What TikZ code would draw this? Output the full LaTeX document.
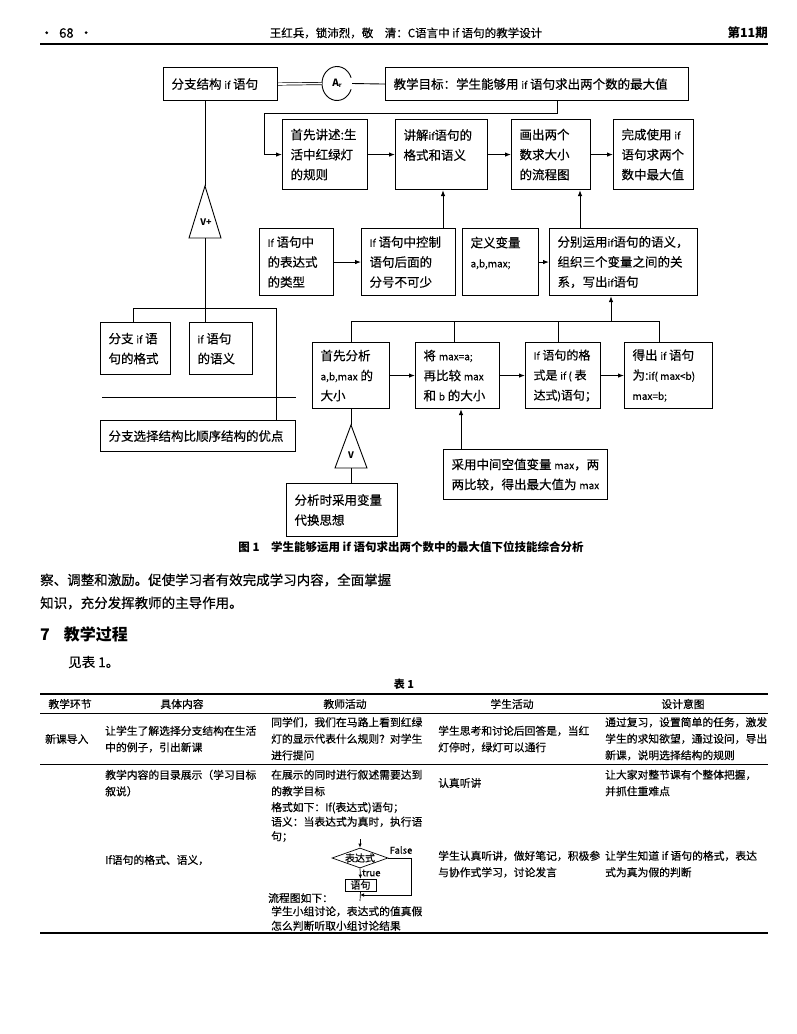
\documentclass[tikz,border=0pt]{standalone}
\usepackage{fontspec}
\setmainfont{Noto Sans CJK SC}[UprightFeatures={FakeBold=0.4}]
\usetikzlibrary{arrows.meta,calc,shapes.geometric}
\hbadness=10000 \hfuzz=20pt
\newcommand{\bxc}[3]{\parbox[c][#2pt][c]{#1pt}{\parindent=0pt\leftskip=8pt\rightskip=0pt plus 1fil #3}}
\newcommand{\smlat}[1]{{\fontsize{10}{20}\selectfont #1}}
\begin{document}
\begin{tikzpicture}[x=1pt,y=-1pt,
  bx/.style={draw, line width=1.1pt, inner sep=0pt, anchor=north west, font=\fontsize{12.5}{20}\selectfont},
  arr/.style={-{Latex[length=6pt,width=4.5pt]}, line width=0.9pt},
  arrs/.style={-{Latex[length=4pt,width=3.5pt]}, line width=0.7pt},
  ln/.style={line width=0.9pt},
  tt/.style={inner sep=0pt, anchor=north west, align=left, font=\fontsize{10.8}{16.5}\selectfont},
  tw/.style={inner sep=0pt, anchor=west, font=\fontsize{10.8}{16.5}\selectfont},
  tc/.style={inner sep=0pt, font=\fontsize{10.8}{16.5}\selectfont},
  body/.style={inner sep=0pt, anchor=west, font=\fontsize{13.5}{13.5}\selectfont},
  tri/.style={inner sep=0pt, font=\bfseries\fontsize{9}{9}\selectfont}]
\fill[white] (0,0) rectangle (796,1034);
\useasboundingbox (0,0) rectangle (796,1034);

% ---------- page header ----------
\node[inner sep=0pt, anchor=west, font=\fontsize{13}{13}\selectfont] (pg) at (40,33) {•\hspace{6pt}68\hspace{6pt}•};
\node[inner sep=0pt, font=\fontsize{11.5}{11.5}\selectfont] (ttl) at (406,33) {王红兵，锁沛烈，敬\quad 清：C语言中 if 语句的教学设计};
\node[inner sep=0pt, anchor=east, font=\bfseries\fontsize{12.5}{12.5}\selectfont] (iss) at (768,33) {第11期};
\draw[line width=1.3pt] (40,44) -- (768,44);

% ---------- diagram boxes ----------
\node[bx] (A) at (163,67) {\bxc{114}{33}{分支结构 \smlat{if} 语句}};
\node[bx] (B) at (385,67) {\bxc{303}{33}{教学目标：学生能够用 \smlat{if} 语句求出两个数的最大值}};
\node[ellipse, minimum width=30pt, minimum height=34pt, inner sep=0pt, font=\bfseries\fontsize{10}{10}\selectfont] (circ) at (337,83.5) {A\raisebox{-1.5pt}{\fontsize{6}{6}\selectfont r}};
\draw[ln] (351.1,89.3) arc[start angle=20,end angle=340,x radius=15,y radius=17];

\node[bx] (C1) at (282,119) {\bxc{85}{70}{首先讲述:生\\活中红绿灯\\的规则}};
\node[bx] (C2) at (395,119) {\bxc{92}{70}{讲解\smlat{if}语句的\\格式和语义\\\mbox{}}};
\node[bx] (C3) at (511,119) {\bxc{79}{70}{画出两个\\数求大小\\的流程图}};
\node[bx] (C4) at (613,119) {\bxc{80}{70}{完成使用 \smlat{if}\\语句求两个\\数中最大值}};

\node[bx] (R1) at (259,228) {\bxc{74}{67}{\smlat{If} 语句中\\的表达式\\的类型}};
\node[bx] (R2) at (361,228) {\bxc{94}{67}{\smlat{If} 语句中控制\\语句后面的\\分号不可少}};
\node[bx] (R3) at (462,228) {\bxc{76}{67}{定义变量\\\smlat{a,b,max;}\\\mbox{}}};
\node[bx] (R4) at (549,228) {\bxc{148}{67}{分别运用\smlat{if}语句的语义，\\组织三个变量之间的关\\系，写出\smlat{if}语句}};

\node[bx] (G1) at (312,342) {\bxc{77}{66}{首先分析\\\smlat{a,b,max} 的\\大小}};
\node[bx] (G2) at (415,342) {\bxc{84}{66}{将 \smlat{max=a;}\\再比较 \smlat{max}\\和 \smlat{b} 的大小}};
\node[bx, font=\fontsize{12}{20}\selectfont] (G3) at (525,342) {\bxc{75}{66}{\smlat{If} 语句的格\\式是 \smlat{if (} 表\\达式\smlat{)}语句；}};
\node[bx] (G4) at (624,342) {\bxc{88}{66}{得出 \smlat{if} 语句\\为:\smlat{if( max<b)}\\\smlat{max=b;}}};

\node[bx] (D1) at (100,322) {\bxc{70}{52}{分支 \smlat{if} 语\\句的格式}};
\node[bx] (D2) at (189,322) {\bxc{63}{52}{\smlat{if} 语句\\的语义}};
\node[bx] (E) at (100,420) {\bxc{195}{31}{分支选择结构比顺序结构的优点}};
\node[bx] (F) at (286,483) {\bxc{111}{53}{分析时采用变量\\代换思想}};
\node[bx] (H) at (443,449) {\bxc{164}{50}{采用中间空值变量 \smlat{max}，两\\两比较，得出最大值为 \smlat{max}}};

% ---------- helper coordinates ----------
\coordinate (x443) at (443,0);
\coordinate (x580) at (580,0);
\coordinate (x611) at (611,0);
\coordinate (x461) at (461,0);
\coordinate (d1) at (351,0);
\coordinate (d2) at (454,0);
\coordinate (d3) at (558,0);
\coordinate (d4) at (659,0);
\coordinate (bus) at (0,321);
\coordinate (lb) at (0,308);
\coordinate (x276) at (276,0);
\coordinate (x133) at (133,0);
\coordinate (hl1) at (102,397);
\coordinate (hl2) at (296,397);

% ---------- connectors ----------
\draw[double, double distance=1.6pt, line width=0.7pt] (A.east) -- (circ.west);
\draw[ln] (circ.east) -- (B.west);
\draw[arr] ($(B.south west)+(172,0)$) |- (264,113) |- (C1.west);
\draw[arr] (C1.east) -- (C2.west);
\draw[arr] (C2.east) -- (C3.west);
\draw[arr] (C3.east) -- (C4.west);
\draw[arr] (R2.north -| x443) -- (C2.south -| x443);
\draw[arr] (R4.north -| x580) -- (C3.south -| x580);
\draw[arr] (R1.east) -- (R2.west);
\draw[arr] (R3.east) -- (R4.west);

\draw[ln] (d1 |- G1.north) -- (d1 |- bus) -- (d4 |- bus) -- (d4 |- G4.north);
\draw[ln] (d2 |- bus) -- (d2 |- G2.north);
\draw[ln] (d3 |- bus) -- (d3 |- G3.north);
\draw[arr] (x611 |- bus) -- (R4.south -| x611);
\draw[arr] (G1.east) -- (G2.west);
\draw[arr] (G2.east) -- (G3.west);
\draw[arr] (G3.east) -- (G4.west);
\draw[arr] (H.north -| x461) -- (G2.south -| x461);

% V triangle
\coordinate (tvA) at (351,425);
\coordinate (tvB) at (351,468);
\draw[ln] (tvA) -- (367,468) -- (335,468) -- cycle;
\node[tri] (tvL) at (351,455) {V};
\draw[ln] (G1.south -| tvA) -- (tvA);
\draw[ln] (tvB) -- (tvB |- F.north);

% V+ triangle
\coordinate (tpA) at (205,186);
\coordinate (tpB) at (205,238);
\draw[ln] (tpA) -- (221,238) -- (189,238) -- cycle;
\node[tri] (tpL) at (206,222) {V+};
\draw[ln] (A.south -| tpA) -- (tpA);
\draw[ln] (tpB) -- (tpB |- D2.north);
\draw[ln] (x133 |- D1.north) -- (x133 |- lb) -- (x276 |- lb) -- (x276 |- E.north);
\draw[ln] (hl1) -- (hl2);

\node[inner sep=0pt, font=\bfseries\fontsize{11.5}{11.5}\selectfont] (cap) at (411,547) {图 1\quad 学生能够运用 if 语句求出两个数中的最大值下位技能综合分析};

% ---------- body text ----------
\node[body] (p1) at (40,580) {察、调整和激励。促使学习者有效完成学习内容，全面掌握};
\node[body] (p2) at (40,603) {知识，充分发挥教师的主导作用。};
\node[inner sep=0pt, anchor=west, font=\bfseries\fontsize{16}{16}\selectfont] (sec) at (40,634) {7\hspace{14pt}教学过程};
\node[body] (p3) at (68,662) {见表 1。};
\node[inner sep=0pt, font=\bfseries\fontsize{11}{11}\selectfont] (tab) at (404,684) {表 1};

% ---------- table ----------
\draw[line width=1.3pt] (40,694) -- (768,694);
\draw[line width=0.5pt] (40,713) -- (768,713);
\draw[line width=0.6pt] (40,764) -- (768,764);
\draw[line width=1.3pt] (40,933) -- (768,933);

\node[tc] (h1) at (70,704) {教学环节};
\node[tc] (h2) at (182,704) {具体内容};
\node[tc] (h3) at (345,704) {教师活动};
\node[tc] (h4) at (512,704) {学生活动};
\node[tc] (h5) at (683,704) {设计意图};

\node[tw] (r1c1) at (45,739) {新课导入};
\node[tt] (r1c2) at (105,725.5) {让学生了解选择分支结构在生活\\中的例子，引出新课};
\node[tt] (r1c3) at (271,717) {同学们，我们在马路上看到红绿\\灯的显示代表什么规则？对学生\\进行提问};
\node[tt] (r1c4) at (438,725.5) {学生思考和讨论后回答是，当红\\灯停时，绿灯可以通行};
\node[tt] (r1c5) at (605,717) {通过复习，设置简单的任务，激发\\学生的求知欲望，通过设问，导出\\新课，说明选择结构的规则};

\node[tt] (r2c2) at (105,769.5) {教学内容的目录展示（学习目标\\叙说）};
\node[tt] (r2c3) at (271,769.5) {在展示的同时进行叙述需要达到\\的教学目标};
\node[tw] (r2c4) at (438,783) {认真听讲};
\node[tt] (r2c5) at (605,769.5) {让大家对整节课有个整体把握，\\并抓住重难点};
\node[tt, font=\fontsize{10.8}{14.5}\selectfont] (r3c3) at (271,802) {格式如下：If(表达式)语句；\\语义：当表达式为真时，执行语\\句；};

\node[tw] (r3c2) at (105,860) {If语句的格式、语义，};
\node[tt] (r3c4) at (438,850.5) {学生认真听讲，做好笔记，积极参\\与协作式学习，讨论发言};
\node[tt] (r3c5) at (605,850.5) {让学生知道 if 语句的格式，表达\\式为真为假的判断};

% flowchart in table
\coordinate (fin) at (360,839);
\node[diamond, draw, line width=0.7pt, aspect=2.8, minimum width=56pt, minimum height=20pt, inner sep=0pt, font=\fontsize{10}{10}\selectfont] (fd) at (360,858) {表达式};
\node[draw, line width=0.7pt, minimum width=31pt, minimum height=12pt, inner sep=0pt, font=\fontsize{10}{10}\selectfont] (fs) at (360.5,885) {语句};
\coordinate (fr) at (411,895);
\coordinate (fj) at (360,895);
\coordinate (fout) at (360,901);
\draw[arrs] (fin) -- (fd.north);
\draw[arrs] (fd.south) -- (fs.north);
\draw[arrs] (fd.east) -| (fr) -- (fj);
\draw[line width=0.7pt] (fs.south) -- (fout);
\node[inner sep=0pt, font=\fontsize{9.5}{9.5}\selectfont] (ffalse) at (401,850) {False};
\node[inner sep=0pt, anchor=west, font=\fontsize{9.5}{9.5}\selectfont] (ftrue) at (362,873) {true};

\node[tw] (r3c3b) at (268,898) {流程图如下：};
\node[tt, font=\fontsize{10.8}{14.5}\selectfont] (r3c3c) at (271,906) {学生小组讨论，表达式的值真假\\怎么判断听取小组讨论结果};
\end{tikzpicture}
\end{document}
